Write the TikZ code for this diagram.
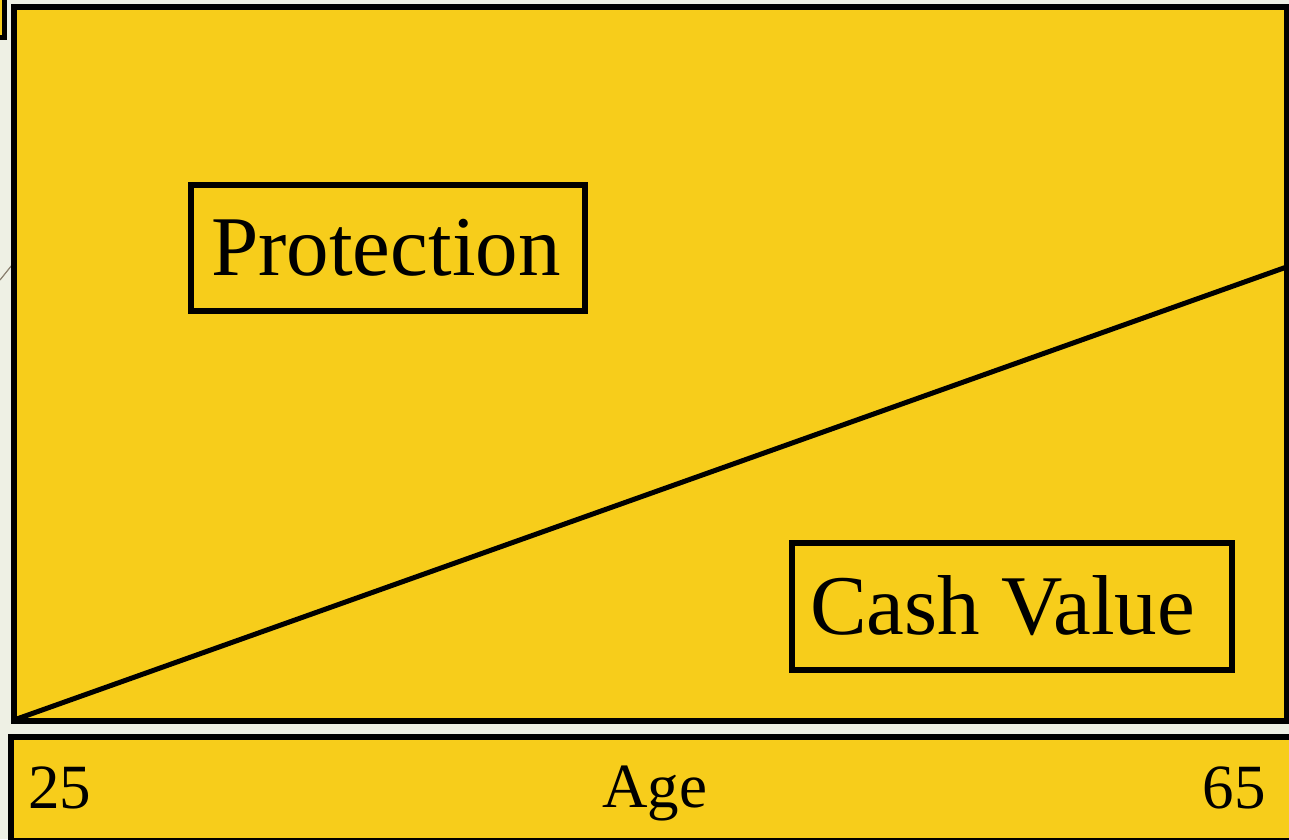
\documentclass[tikz,border=0pt]{standalone}
\usepackage{fontspec}
\setmainfont{Liberation Serif}
\definecolor{bg}{HTML}{EEF0E4}
\definecolor{gold}{HTML}{F7CD1B}
\definecolor{faint}{HTML}{8A8070}
\begin{document}
\begin{tikzpicture}[x=1pt,y=-1pt,
  frame/.style={draw=black,fill=gold,line width=5.5pt},
  lbox/.style={draw=black,line width=6pt,inner sep=0pt},
  big/.style={font=\fontsize{85}{92}\selectfont,inner sep=0pt},
  small/.style={font=\fontsize{63}{70}\selectfont,inner sep=0pt}]
\fill[bg] (0,0) rectangle (1289,839);
\useasboundingbox (0,0) rectangle (1289,839);
% fragment of a box at the top left
\draw[draw=black,fill=gold,line width=4.5pt] (-20,-20) rectangle (4.5,37.5);
% faint stray line on the left
\draw[faint,line width=1.2pt] (0,280) -- (12,265);
% main chart area
\draw[frame] (14,7) rectangle (1287,721);
\coordinate (origin) at (14,720);
\coordinate (rightend) at (1295,264);
\draw[line width=5pt,line cap=round] (origin) -- (rightend);
% axis strip
\draw[frame,line width=6pt] (10.5,737) rectangle (1320,840.5);
% labelled boxes
\node[lbox,minimum width=394.5pt,minimum height=126pt] (protbox) at (388,247.5) {};
\node[big,anchor=base west] (prot) at (211,275) {Protection};
\node[lbox,minimum width=440pt,minimum height=127.5pt] (cvbox) at (1011.5,606.25) {};
\node[big,anchor=base west] (cv) at (810,634) {Cash Value};
% axis labels
\node[small,anchor=base west] (a25) at (28,808) {25};
\node[small,anchor=base west] (age) at (602,807) {Age};
\node[small,anchor=base east] (a65) at (1266,808) {65};
\end{tikzpicture}
\end{document}
